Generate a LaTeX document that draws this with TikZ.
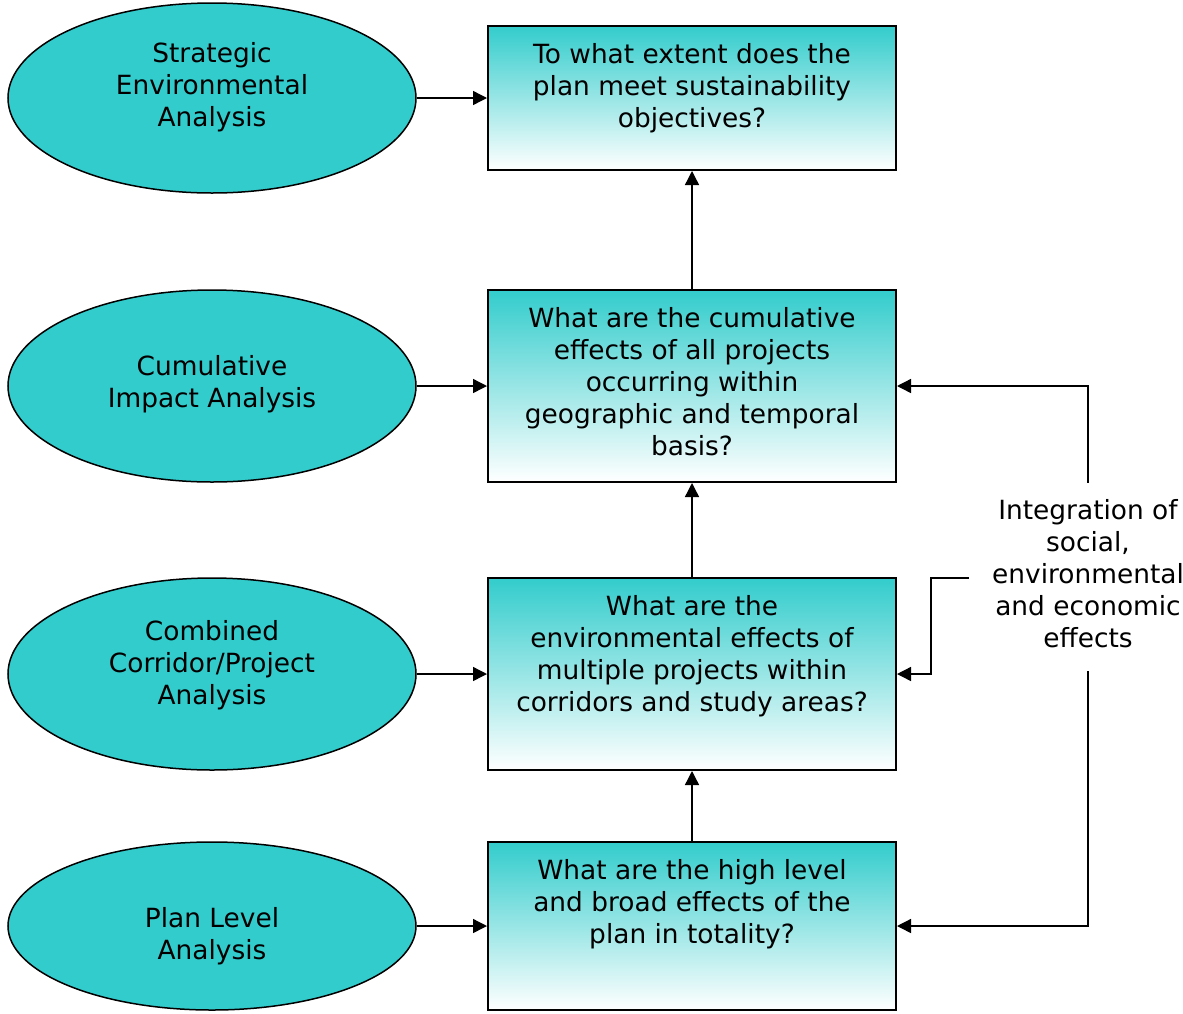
\documentclass[tikz,border=0pt]{standalone}
\usepackage{fontspec}
\setmainfont{DejaVu Sans}
\usetikzlibrary{arrows.meta,positioning,shapes.geometric}
\definecolor{seateal}{RGB}{51,204,204}

\begin{document}
\begin{tikzpicture}[x=0.5pt,y=-0.5pt,
  font=\fontsize{13.2}{16}\selectfont,
  method/.style={ellipse, draw, line width=0.75pt, fill=seateal, minimum width=204pt, minimum height=95pt, inner sep=0pt},
  mtext/.style={align=center, inner sep=0pt},
  question/.style={draw, line width=1pt, top color=seateal, bottom color=white, minimum width=204pt, inner sep=0pt},
  qtext/.style={align=center, inner sep=0pt},
  arr/.style={-{Triangle[length=7pt,width=7pt]}, line width=0.7pt}]
\useasboundingbox (0,0) rectangle (1183,1013);
% Analysis levels
\node[method, label={[mtext, yshift=5.5pt]center:Strategic\\ Environmental\\ Analysis}] (strategic) at (212,98) {};
\node[method, minimum height=96pt, label={[mtext, yshift=1pt]center:Cumulative\\ Impact Analysis}] (cumulative) at (212,386) {};
\node[method, minimum height=96pt, label={[mtext, yshift=4.5pt]center:Combined\\ Corridor/Project\\ Analysis}] (combined) at (212,674) {};
\node[method, minimum height=84pt, label={[mtext, yshift=-5pt]center:Plan Level\\ Analysis}] (planlevel) at (212,926) {};
% Questions
\node[question, minimum height=72pt] (q1) at (692,98) {};
\node[question, minimum height=96pt] (q2) at (692,386) {};
\node[question, minimum height=96pt] (q3) at (692,674) {};
\node[question, minimum height=84pt] (q4) at (692,926) {};
\node[qtext, below=9pt of q1.north] (t1) {To what extent does the\\ plan meet sustainability\\ objectives?};
\node[qtext, below=9pt of q2.north] (t2) {What are the cumulative\\ effects of all projects\\ occurring within\\ geographic and temporal\\ basis?};
\node[qtext, below=9pt of q3.north] (t3) {What are the\\ environmental effects of\\ multiple projects within\\ corridors and study areas?};
\node[qtext, below=9pt of q4.north] (t4) {What are the high level\\ and broad effects of the\\ plan in totality?};
% Integration
\node[align=center] (integ) at (1088,574) {Integration of\\ social,\\ environmental\\ and economic\\ effects};
% Arrows
\draw[arr] (strategic.east) -- (q1.west);
\draw[arr] (cumulative.east) -- (q2.west);
\draw[arr] (combined.east) -- (q3.west);
\draw[arr] (planlevel.east) -- (q4.west);
\draw[arr] (q4.north) -- (q3.south);
\draw[arr] (q3.north) -- (q2.south);
\draw[arr] (q2.north) -- (q1.south);
\draw[arr] ([yshift=5pt]integ.north) |- (q2.east);
\draw[arr] ([xshift=-8pt,yshift=-2pt]integ.west) -- ++(-19pt,0) |- (q3.east);
\draw[arr] ([yshift=-8pt]integ.south) |- (q4.east);
\end{tikzpicture}
\end{document}
